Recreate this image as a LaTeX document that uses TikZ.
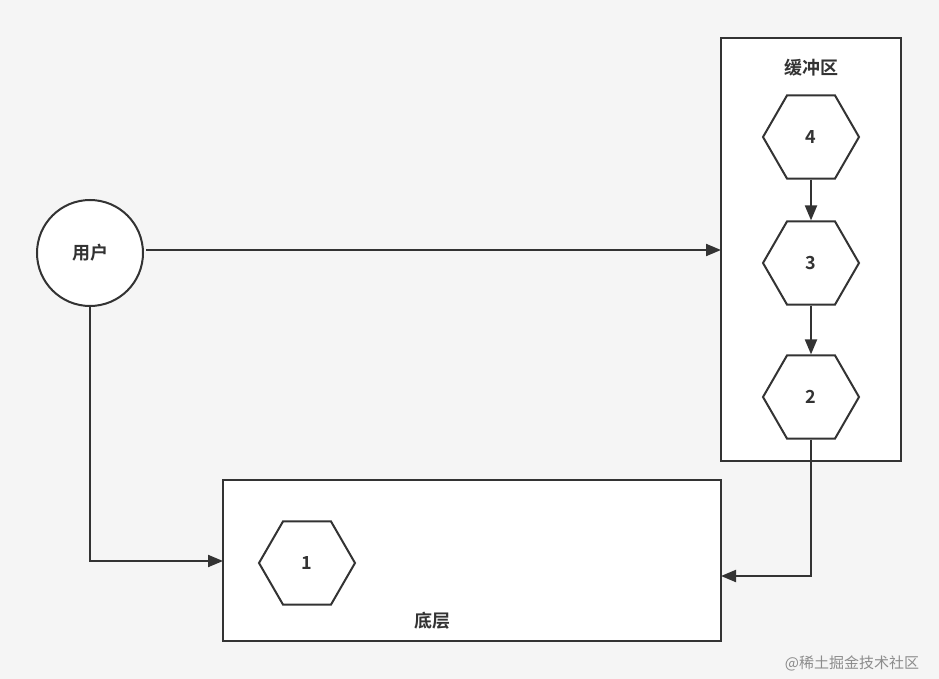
\documentclass[tikz,border=0pt]{standalone}
\usepackage{fontspec}
\setmainfont{Noto Sans CJK SC}[BoldFont={Noto Sans CJK SC Bold}]
\usetikzlibrary{shapes.geometric,arrows.meta}
\definecolor{ln}{HTML}{333333}
\tikzset{
  hexa/.style={regular polygon,regular polygon sides=6,minimum size=96pt,inner sep=0pt,draw=ln,line width=2pt,fill=white,font=\bfseries\fontsize{18}{18}\selectfont,text=ln},
  box/.style={draw=ln,line width=2pt,fill=white},
  conn/.style={draw=ln,line width=2pt,-{Triangle[length=15pt,width=12pt]}},
  lbl/.style={font=\bfseries\fontsize{18}{18}\selectfont,text=ln}
}
\begin{document}
\begin{tikzpicture}[x=1pt,y=-1pt]
\fill[white!96!black] (0,0) rectangle (939,679);
\useasboundingbox (0,0) rectangle (939,679);
\draw[box] (721,38) rectangle (901,461);
\node[lbl] (buf) at (811,68) {缓冲区};
\draw[box] (223,480) rectangle (721,641);
\node[lbl] (base) at (432,621) {底层};
\node[hexa] (h4) at (811,137) {4};
\node[hexa] (h3) at (811,263) {3};
\node[hexa] (h2) at (811,397) {2};
\node[hexa] (h1) at (307,563) {1};
\node[circle,draw=ln,line width=2pt,fill=white,minimum size=106pt,inner sep=0pt,lbl] (user) at (90,253) {用户};
\coordinate (bufin) at (721,250);
\coordinate (basein) at (223,561);
\coordinate (baseright) at (721,576);
\draw[conn] (user.east |- bufin) ++(2,0) -- (bufin);
\draw[conn] (user.south) -- (user.south |- basein) -- (basein);
\draw[conn] (h2.south) -- (h2.south |- baseright) -- (baseright);
\draw[conn] (h4.south) -- (h3.north);
\draw[conn] (h3.south) -- (h2.north);
\node[text=black!45,font=\fontsize{15}{15}\selectfont] (wm) at (852,663) {@稀土掘金技术社区};
\end{tikzpicture}
\end{document}
